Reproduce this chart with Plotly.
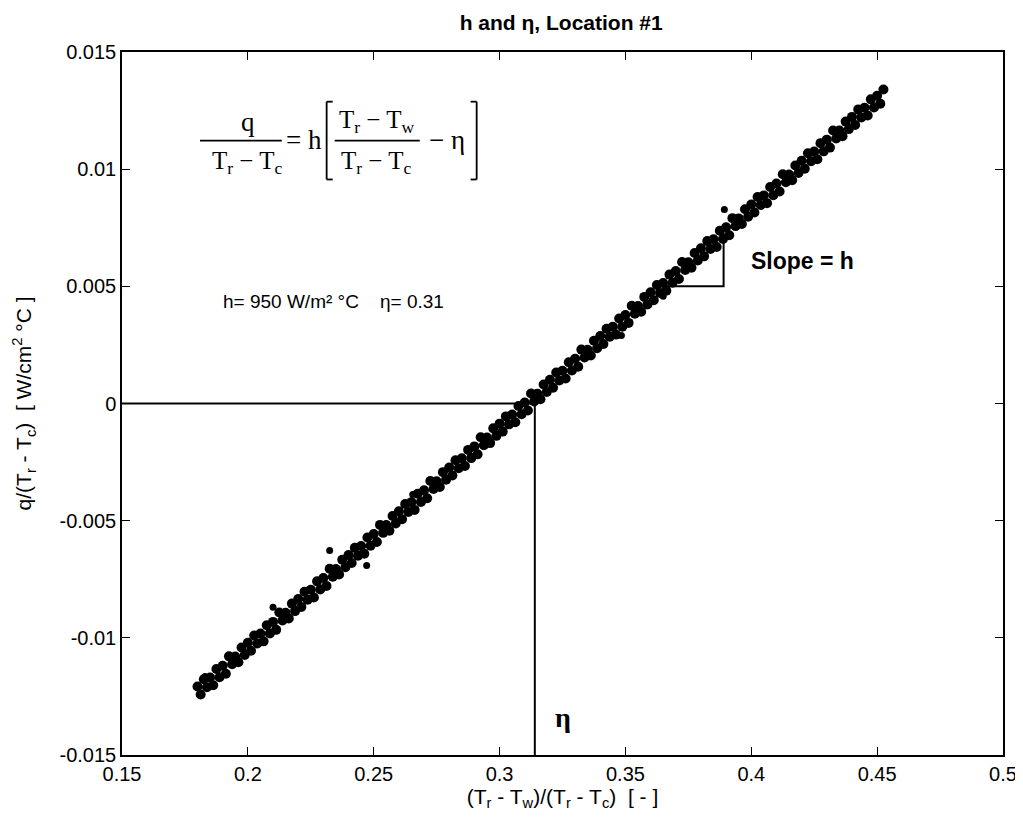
import plotly.graph_objects as go

# ---- data ----
# main band of measurements (two interleaved sets)
xa = [round(0.18 + 0.0025 * k, 5) for k in range(110)]
ya = [-0.01208, -0.01177, -0.01169, -0.01133, -0.01119, -0.01079, -0.01080, -0.01041,
      -0.01021, -0.00990, -0.00982, -0.00946, -0.00932, -0.00892, -0.00893, -0.00854,
      -0.00834, -0.00803, -0.00795, -0.00759, -0.00745, -0.00705, -0.00706, -0.00667,
      -0.00647, -0.00616, -0.00608, -0.00572, -0.00557, -0.00518, -0.00519, -0.00480,
      -0.00460, -0.00429, -0.00421, -0.00385, -0.00370, -0.00331, -0.00332, -0.00293,
      -0.00273, -0.00242, -0.00234, -0.00198, -0.00183, -0.00144, -0.00145, -0.00106,
      -0.00086, -0.00055, -0.00047, -0.00011, 0.00004, 0.00043, 0.00042, 0.00081,
      0.00101, 0.00132, 0.00140, 0.00176, 0.00191, 0.00230, 0.00229, 0.00268,
      0.00288, 0.00319, 0.00327, 0.00363, 0.00378, 0.00417, 0.00416, 0.00455,
      0.00475, 0.00506, 0.00514, 0.00550, 0.00565, 0.00604, 0.00603, 0.00642,
      0.00662, 0.00693, 0.00701, 0.00737, 0.00752, 0.00791, 0.00790, 0.00829,
      0.00849, 0.00881, 0.00888, 0.00924, 0.00939, 0.00978, 0.00977, 0.01016,
      0.01036, 0.01068, 0.01075, 0.01111, 0.01126, 0.01165, 0.01165, 0.01203,
      0.01223, 0.01255, 0.01262, 0.01298, 0.01313, 0.01340]
xb = [round(0.18125 + 0.0025 * k, 5) for k in range(109)]
yb = [-0.01242, -0.01211, -0.01202, -0.01168, -0.01153, -0.01113, -0.01104, -0.01073,
      -0.01055, -0.01024, -0.01015, -0.00981, -0.00966, -0.00926, -0.00917, -0.00886,
      -0.00868, -0.00837, -0.00828, -0.00794, -0.00779, -0.00739, -0.00730, -0.00699,
      -0.00681, -0.00650, -0.00641, -0.00607, -0.00591, -0.00552, -0.00543, -0.00512,
      -0.00494, -0.00463, -0.00454, -0.00420, -0.00404, -0.00365, -0.00356, -0.00325,
      -0.00307, -0.00276, -0.00267, -0.00233, -0.00217, -0.00178, -0.00169, -0.00138,
      -0.00120, -0.00089, -0.00080, -0.00046, -0.00030, 0.00009, 0.00018, 0.00049,
      0.00067, 0.00098, 0.00107, 0.00141, 0.00157, 0.00196, 0.00205, 0.00236,
      0.00254, 0.00285, 0.00294, 0.00328, 0.00344, 0.00383, 0.00392, 0.00423,
      0.00441, 0.00472, 0.00481, 0.00515, 0.00531, 0.00570, 0.00579, 0.00610,
      0.00628, 0.00659, 0.00668, 0.00702, 0.00718, 0.00757, 0.00766, 0.00797,
      0.00815, 0.00847, 0.00855, 0.00889, 0.00905, 0.00944, 0.00953, 0.00984,
      0.01002, 0.01034, 0.01042, 0.01076, 0.01092, 0.01131, 0.01141, 0.01171,
      0.01189, 0.01221, 0.01229, 0.01263, 0.01279]
# stray points
xo = [0.2325, 0.2472, 0.3893, 0.3484, 0.2655, 0.3650, 0.1830, 0.2100]
yo = [-0.00627, -0.00691, 0.00828, 0.00290, -0.00388, 0.00458, -0.01165, -0.00870]

# eta construction line and slope triangle
eta_x = [0.15, 0.314, 0.314]
eta_y = [0.0, 0.0, -0.015]
tri_x = [0.3635, 0.389, 0.389]
tri_y = [0.005, 0.005, 0.0073]

x_ticks = [0.15, 0.2, 0.25, 0.3, 0.35, 0.4, 0.45, 0.5]
x_tick_labels = ["0.15", "0.2", "0.25", "0.3", "0.35", "0.4", "0.45", "0.5"]
y_ticks = [-0.015, -0.01, -0.005, 0, 0.005, 0.01, 0.015]
y_tick_labels = ["-0.015", "-0.01", "-0.005", "0", "0.005", "0.01", "0.015"]

SANS = "Liberation Sans, Arial, sans-serif"
SERIF = "Liberation Serif, Times New Roman, serif"

fig = go.Figure()
mk = dict(color="black", size=10)
fig.add_trace(go.Scatter(x=xa, y=ya, mode="markers", marker=mk, showlegend=False))
fig.add_trace(go.Scatter(x=xb, y=yb, mode="markers", marker=mk, showlegend=False))
fig.add_trace(go.Scatter(x=xo, y=yo, mode="markers", marker=dict(color="black", size=7), showlegend=False))
fig.add_trace(go.Scatter(x=eta_x, y=eta_y, mode="lines", line=dict(color="black", width=2), showlegend=False))
fig.add_trace(go.Scatter(x=tri_x, y=tri_y, mode="lines", line=dict(color="black", width=2), showlegend=False))

ann = []
def text(x, y, t, size, font=SANS, xanchor="center"):
    ann.append(dict(x=x, y=y, xref="x", yref="y", text=t, showarrow=False,
                    font=dict(family=font, size=size, color="black"),
                    xanchor=xanchor, yanchor="middle"))

# equation
text(0.2, 0.01200, "q", 27, SERIF)
text(0.2, 0.01030, "T<sub>r</sub> − T<sub>c</sub>", 25, SERIF)
text(0.2222, 0.01124, "= h", 27, SERIF)
text(0.2512, 0.01205, "T<sub>r</sub> − T<sub>w</sub>", 25, SERIF)
text(0.2512, 0.01030, "T<sub>r</sub> − T<sub>c</sub>", 25, SERIF)
text(0.2790, 0.01124, "− η", 27, SERIF)
text(0.1895, 0.00435, "h= 950 W/m² °C    η= 0.31", 19, SANS, xanchor="left")
text(0.3990, 0.00606, "<b>Slope = h</b>", 23, SANS, xanchor="left")
text(0.3250, -0.0134, "<b>η</b>", 28, SERIF)
fig.update_layout(annotations=ann)

shapes = []
def seg(x0, y0, x1, y1, w=1.8):
    shapes.append(dict(type="line", xref="x", yref="y", x0=x0, y0=y0, x1=x1, y1=y1,
                       line=dict(color="black", width=w)))
seg(0.181, 0.01122, 0.2135, 0.01122)
seg(0.2345, 0.01122, 0.2683, 0.01122)
# left bracket
seg(0.2313, 0.01288, 0.2313, 0.00956)
seg(0.2313, 0.01288, 0.2337, 0.01288)
seg(0.2313, 0.00956, 0.2337, 0.00956)
# right bracket
seg(0.2909, 0.01288, 0.2909, 0.00956)
seg(0.2909, 0.01288, 0.2885, 0.01288)
seg(0.2909, 0.00956, 0.2885, 0.00956)
fig.update_layout(shapes=shapes)

axis_common = dict(showline=True, linecolor="black", linewidth=1.5, mirror="ticks",
                   ticks="inside", ticklen=8, tickwidth=1.2, tickcolor="black",
                   showgrid=False, zeroline=False,
                   tickfont=dict(family=SANS, size=20, color="black"))
fig.update_xaxes(range=[0.15, 0.5], tickvals=x_ticks, ticktext=x_tick_labels,
                 title=dict(text="(T<sub>r</sub> - T<sub>w</sub>)/(T<sub>r</sub> - T<sub>c</sub>)  [ - ]",
                            font=dict(family=SANS, size=21, color="black"), standoff=4),
                 **axis_common)
fig.update_yaxes(range=[-0.015, 0.015], tickvals=y_ticks, ticktext=y_tick_labels,
                 title=dict(text="q/(T<sub>r</sub> - T<sub>c</sub>)  [ W/cm<sup>2</sup> °C ]",
                            font=dict(family=SANS, size=21, color="black"), standoff=22),
                 **axis_common)

# page body has an 8px default margin, so the figure is placed at (8, 8)
fig.update_layout(
    width=1015, height=821,
    margin=dict(l=114, r=20, t=44, b=74, autoexpand=False),
    paper_bgcolor="white", plot_bgcolor="white",
    title=dict(text="<b>h and η, Location #1</b>", x=0.545, xanchor="center",
               y=0.9825, yanchor="middle",
               font=dict(family=SANS, size=21, color="black")),
)

fig.write_html("out.html")
